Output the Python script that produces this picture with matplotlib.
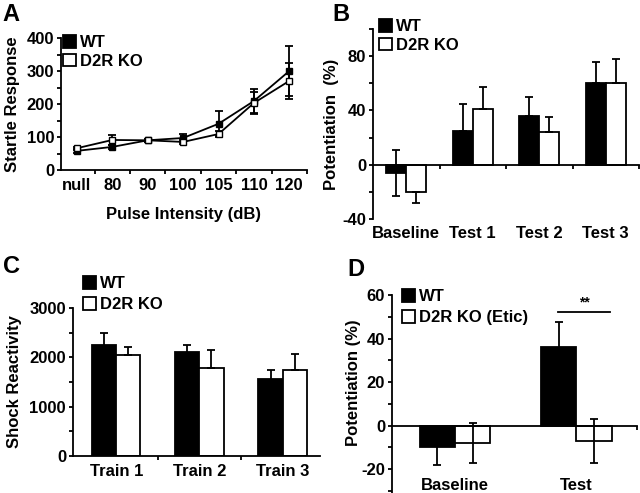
import matplotlib
matplotlib.use("Agg")
import matplotlib.pyplot as plt
from matplotlib.patches import Patch
from matplotlib.ticker import MultipleLocator, FixedLocator, NullLocator
import numpy as np

plt.rcParams['font.family'] = ['Liberation Sans', 'DejaVu Sans']
plt.rcParams['font.weight'] = 'bold'
plt.rcParams['axes.labelweight'] = 'bold'
plt.rcParams['font.size'] = 12
plt.rcParams['axes.unicode_minus'] = False

# panel A - startle curve
pulse_labels = ["null", "80", "90", "100", "105", "110", "120"]
a_wt = [58, 70, 90, 97, 140, 209, 300]
a_wt_err = [5, 6, 4, 12, 38, 35, 75]
a_ko = [66, 91, 90, 85, 109, 203, 270]
a_ko_err = [4, 16, 4, 6, 8, 33, 55]

# panel B - potentiation
b_groups = ["Baseline", "Test 1", "Test 2", "Test 3"]
b_wt = [-6, 25, 36, 60]
b_wt_lo = [17, 0, 0, 0]
b_wt_hi = [17, 20, 14, 16]
b_ko = [-20, 41, 24, 60]
b_ko_lo = [8, 0, 0, 0]
b_ko_hi = [0, 16, 11, 18]

# panel C - shock reactivity
c_groups = ["Train 1", "Train 2", "Train 3"]
c_wt = [2260, 2100, 1560]
c_wt_err = [240, 160, 180]
c_ko = [2040, 1780, 1740]
c_ko_lo = [0, 0, 0]
c_ko_hi = [160, 360, 320]

# panel D - eticlopride
d_groups = ["Baseline", "Test"]
d_wt = [-10, 36]
d_wt_err = [8, 11.5]
d_ko = [-8, -7]
d_ko_err = [9, 10]
sig_x = [0.85, 1.28]
sig_y = 52

LW = 1.3
fig = plt.figure(figsize=(6.4, 4.93), dpi=100)


def style(ax):
    ax.spines['top'].set_visible(False)
    ax.spines['right'].set_visible(False)
    for s in ('left', 'bottom'):
        ax.spines[s].set_linewidth(LW)
    ax.tick_params(which='both', direction='out', length=3, width=LW, pad=2)


def add_legend(ax, labels, xy, spacing):
    handles = [Patch(facecolor='black', edgecolor='black', linewidth=LW),
               Patch(facecolor='white', edgecolor='black', linewidth=LW)]
    ax.legend(handles, labels, loc='upper left', bbox_to_anchor=xy,
              bbox_transform=fig.transFigure, frameon=False, borderpad=0,
              borderaxespad=0, handlelength=0.8, handleheight=0.8,
              handletextpad=0.2, labelspacing=spacing, fontsize=12)


def grouped_bars(ax, wt, ko, wt_err, ko_err, w=0.3):
    x = np.arange(len(wt))
    ax.bar(x - w / 2, wt, w, color='black', edgecolor='black', linewidth=LW, zorder=2)
    ax.bar(x + w / 2, ko, w, color='white', edgecolor='black', linewidth=LW, zorder=2)
    ax.errorbar(x - w / 2, wt, yerr=wt_err, fmt='none', ecolor='black',
                elinewidth=LW, capsize=3, capthick=LW, zorder=3)
    ax.errorbar(x + w / 2, ko, yerr=ko_err, fmt='none', ecolor='black',
                elinewidth=LW, capsize=3, capthick=LW, zorder=3)
    return x


# ---- A
ax1 = fig.add_axes([61 / 640, 1 - 170 / 493, 246 / 640, 132 / 493])
style(ax1)
xa = np.arange(len(pulse_labels))
ax1.errorbar(xa, a_wt, yerr=a_wt_err, color='black', lw=LW, marker='s', ms=4.5,
             mfc='black', mec='black', capsize=3, capthick=LW, elinewidth=LW, zorder=3)
ax1.errorbar(xa, a_ko, yerr=a_ko_err, color='black', lw=LW, marker='s', ms=4.5,
             mfc='white', mec='black', capsize=3, capthick=LW, elinewidth=LW, zorder=3)
ax1.set_xlim(-0.45, 6.5)
ax1.set_ylim(0, 400)
ax1.set_yticks([0, 100, 200, 300, 400])
ax1.yaxis.set_minor_locator(MultipleLocator(50))
ax1.set_xticks(xa, pulse_labels)
ax1.xaxis.set_minor_locator(FixedLocator(xa + 0.5))
ax1.tick_params(axis='x', which='major', length=0, pad=6)
ax1.set_ylabel("Startle Response", labelpad=5)
ax1.set_xlabel("Pulse Intensity (dB)", labelpad=10)
add_legend(ax1, ["WT", "D2R KO"], (63 / 640, 1 - 35 / 493), 0.2)

# ---- B
ax2 = fig.add_axes([373 / 640, 1 - 219 / 493, 266 / 640, 190 / 493])
style(ax2)
grouped_bars(ax2, b_wt, b_ko, [b_wt_lo, b_wt_hi], [b_ko_lo, b_ko_hi])
ax2.spines['bottom'].set_position(('data', 0))
ax2.set_xlim(-0.5, 3.5)
ax2.set_ylim(-40, 100)
ax2.set_yticks([-40, 0, 40, 80])
ax2.yaxis.set_minor_locator(MultipleLocator(20))
ax2.xaxis.set_major_locator(NullLocator())
ax2.xaxis.set_minor_locator(FixedLocator(np.arange(len(b_groups)) + 0.5))
sec2 = ax2.secondary_xaxis('bottom')
sec2.set_xticks(np.arange(len(b_groups)), b_groups)
sec2.spines['bottom'].set_visible(False)
sec2.tick_params(length=0, pad=5)
ax2.set_ylabel("Potentiation  (%)", labelpad=2)
add_legend(ax2, ["WT", "D2R KO"], (379 / 640, 1 - 19 / 493), 0.2)

# ---- C
ax3 = fig.add_axes([73 / 640, 1 - 456 / 493, 247 / 640, 148 / 493])
style(ax3)
grouped_bars(ax3, c_wt, c_ko, c_wt_err, [c_ko_lo, c_ko_hi], w=0.29)
ax3.set_xlim(-0.52, 2.45)
ax3.set_ylim(0, 3000)
ax3.set_yticks([0, 1000, 2000, 3000])
ax3.yaxis.set_minor_locator(MultipleLocator(500))
ax3.set_xticks(np.arange(len(c_groups)), c_groups)
ax3.xaxis.set_minor_locator(FixedLocator(np.arange(len(c_groups)) + 0.5))
ax3.tick_params(axis='x', which='major', length=0, pad=6)
ax3.set_ylabel("Shock Reactivity", labelpad=5)
add_legend(ax3, ["WT", "D2R KO"], (83 / 640, 1 - 276 / 493), 0.35)

# ---- D
ax4 = fig.add_axes([392 / 640, 0, 245 / 640, 198 / 493])
style(ax4)
grouped_bars(ax4, d_wt, d_ko, d_wt_err, d_ko_err, w=0.29)
ax4.spines['bottom'].set_position(('data', 0))
ax4.set_xlim(-0.52, 1.5)
ax4.set_ylim(-31, 60)
ax4.set_yticks([-20, 0, 20, 40, 60])
ax4.yaxis.set_minor_locator(MultipleLocator(10))
ax4.xaxis.set_major_locator(NullLocator())
ax4.xaxis.set_minor_locator(FixedLocator([1.5]))
sec4 = ax4.secondary_xaxis('bottom')
sec4.set_xticks(np.arange(len(d_groups)), d_groups)
sec4.spines['bottom'].set_visible(False)
sec4.tick_params(length=0, pad=-11)
ax4.plot(sig_x, [sig_y, sig_y], color='black', lw=LW)
ax4.text(np.mean(sig_x), sig_y + 1.5, "**", ha='center', va='bottom', fontsize=10)
ax4.set_ylabel("Potentiation (%)")
ax4.yaxis.set_label_coords(-0.125, 0.555)
add_legend(ax4, ["WT", "D2R KO (Etic)"], (402 / 640, 1 - 289 / 493), 0.35)

# panel letters
for lbl, (px, py) in zip("ABCD", [(2, 3), (332, 3), (3, 255), (347, 258)]):
    fig.text(px / 640, 1 - py / 493, lbl, fontsize=17, fontweight='bold', va='top', ha='left')

fig.savefig("out.png", dpi=100)
